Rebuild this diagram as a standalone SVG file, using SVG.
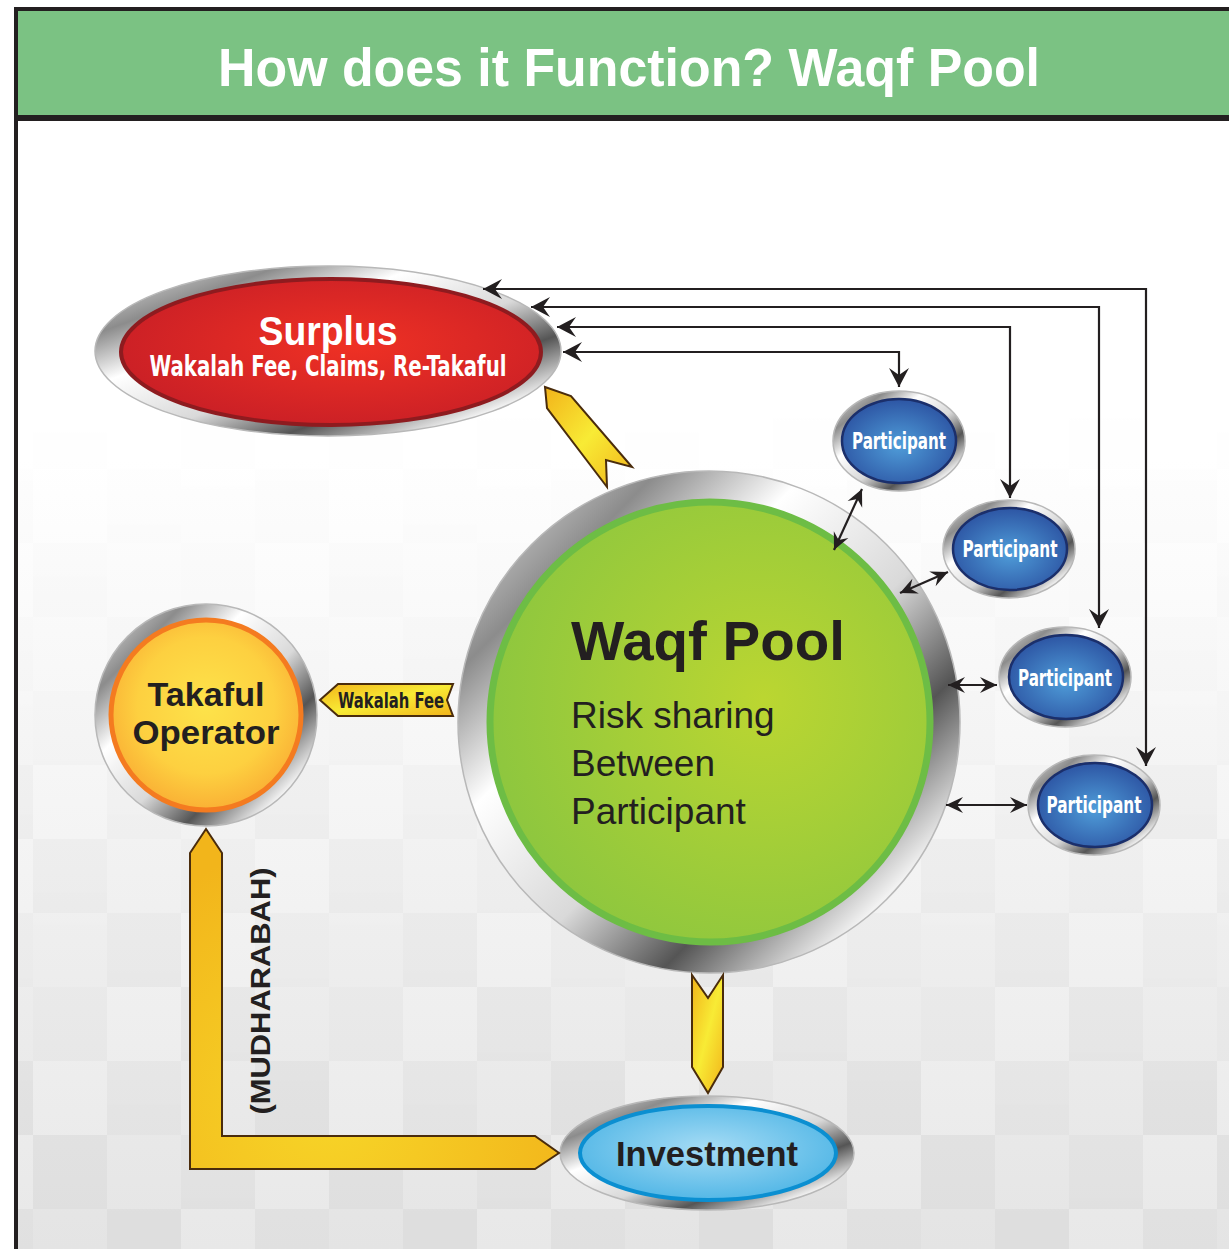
<svg xmlns="http://www.w3.org/2000/svg" width="1229" height="1249" viewBox="0 0 1229 1249">
<style>
.sans{font-family:"Liberation Sans",Arial,sans-serif}
.narrow{font-family:"Liberation Sans Narrow","DejaVu Sans Condensed","Liberation Sans",sans-serif;font-weight:bold}
.conn{fill:none;stroke:#231f20;stroke-width:2.2}
.yarrow{fill:url(#yellowGrad);stroke:#4a2c0c;stroke-width:2;stroke-linejoin:miter}
.ring{fill:url(#silver);stroke:#b8b8b8;stroke-width:1.5}
.ptxt{fill:#fff;font-size:23px;text-anchor:middle}
</style>
<defs>
<linearGradient id="bgGrad" x1="0" y1="0" x2="0" y2="1">
<stop offset="0" stop-color="#ffffff"/>
<stop offset="0.3" stop-color="#ffffff"/>
<stop offset="1" stop-color="#e8e8e8"/>
</linearGradient>
<linearGradient id="fadeGrad" x1="0" y1="380" x2="0" y2="1249" gradientUnits="userSpaceOnUse">
<stop offset="0" stop-color="#000"/>
<stop offset="1" stop-color="#fff"/>
</linearGradient>
<mask id="fadeMask"><rect x="0" y="121" width="1229" height="1128" fill="url(#fadeGrad)"/></mask>
<pattern id="checks" x="33" y="395" width="296" height="296" patternUnits="userSpaceOnUse">
<rect x="0" y="0" width="74" height="74" fill="#000" opacity="0.03"/>
<rect x="74" y="0" width="74" height="74" fill="#000" opacity="0.0"/>
<rect x="148" y="0" width="74" height="74" fill="#000" opacity="0.045"/>
<rect x="222" y="0" width="74" height="74" fill="#000" opacity="0.015"/>
<rect x="0" y="74" width="74" height="74" fill="#000" opacity="0.0"/>
<rect x="74" y="74" width="74" height="74" fill="#000" opacity="0.035"/>
<rect x="148" y="74" width="74" height="74" fill="#000" opacity="0.015"/>
<rect x="222" y="74" width="74" height="74" fill="#000" opacity="0.05"/>
<rect x="0" y="148" width="74" height="74" fill="#000" opacity="0.045"/>
<rect x="74" y="148" width="74" height="74" fill="#000" opacity="0.01"/>
<rect x="148" y="148" width="74" height="74" fill="#000" opacity="0.035"/>
<rect x="222" y="148" width="74" height="74" fill="#000" opacity="0.0"/>
<rect x="0" y="222" width="74" height="74" fill="#000" opacity="0.015"/>
<rect x="74" y="222" width="74" height="74" fill="#000" opacity="0.045"/>
<rect x="148" y="222" width="74" height="74" fill="#000" opacity="0.0"/>
<rect x="222" y="222" width="74" height="74" fill="#000" opacity="0.03"/>
</pattern>
<linearGradient id="silver" x1="0" y1="0" x2="1" y2="1">
<stop offset="0" stop-color="#f4f4f4"/>
<stop offset="0.2" stop-color="#8c8c8c"/>
<stop offset="0.35" stop-color="#ffffff"/>
<stop offset="0.55" stop-color="#d9d9d9"/>
<stop offset="0.7" stop-color="#555555"/>
<stop offset="0.85" stop-color="#f2f2f2"/>
<stop offset="1" stop-color="#9a9a9a"/>
</linearGradient>
<radialGradient id="greenGrad" cx="0.62" cy="0.45" r="0.65">
<stop offset="0" stop-color="#bbd631"/>
<stop offset="1" stop-color="#8cc63f"/>
</radialGradient>
<radialGradient id="redGrad" cx="0.55" cy="0.45" r="0.6">
<stop offset="0" stop-color="#ef3124"/>
<stop offset="1" stop-color="#c91f26"/>
</radialGradient>
<radialGradient id="blueGrad" cx="0.5" cy="0.55" r="0.6">
<stop offset="0" stop-color="#4f9dd9"/>
<stop offset="1" stop-color="#2a4f9f"/>
</radialGradient>
<radialGradient id="orangeGrad" cx="0.5" cy="0.45" r="0.6">
<stop offset="0" stop-color="#fde34a"/>
<stop offset="0.6" stop-color="#fdd040"/>
<stop offset="1" stop-color="#f9a832"/>
</radialGradient>
<radialGradient id="skyGrad" cx="0.5" cy="0.45" r="0.6">
<stop offset="0" stop-color="#a6dcf5"/>
<stop offset="1" stop-color="#4cb4e5"/>
</radialGradient>
<linearGradient id="yellowGrad" x1="0" y1="0" x2="1" y2="1">
<stop offset="0" stop-color="#f2b31a"/>
<stop offset="0.5" stop-color="#f8eb35"/>
<stop offset="1" stop-color="#f2b31a"/>
</linearGradient>
<radialGradient id="lGrad" cx="330" cy="1100" r="260" gradientUnits="userSpaceOnUse">
<stop offset="0" stop-color="#f7d628"/>
<stop offset="1" stop-color="#f2b51b"/>
</radialGradient>
<marker id="ah" viewBox="-20 -11 22 22" refX="0" refY="0" markerWidth="22" markerHeight="22" markerUnits="userSpaceOnUse" orient="auto-start-reverse">
<path d="M0,0 L-19,-10 L-12,0 L-19,10 Z" fill="#231f20"/>
</marker>
<marker id="ahs" viewBox="-18 -10 20 20" refX="0" refY="0" markerWidth="20" markerHeight="20" markerUnits="userSpaceOnUse" orient="auto-start-reverse">
<path d="M0,0 L-17,-8 L-11,0 L-17,8 Z" fill="#231f20"/>
</marker>
</defs>

<!-- background -->
<rect x="0" y="0" width="1229" height="1249" fill="#ffffff"/>
<rect x="16" y="121" width="1213" height="1128" fill="url(#bgGrad)"/>
<rect x="16" y="121" width="1213" height="1128" fill="url(#checks)" mask="url(#fadeMask)"/>

<!-- header -->
<g id="header">
<rect x="14" y="7" width="1215" height="4" fill="#231f20"/>
<rect x="16" y="11" width="1213" height="105" fill="#7bc283"/>
<rect x="14" y="115" width="1215" height="6" fill="#231f20"/>
<rect x="14" y="7" width="4" height="1242" fill="#231f20"/>
<text x="629" y="86" class="sans" font-size="53" font-weight="bold" fill="#ffffff" text-anchor="middle" textLength="822" lengthAdjust="spacingAndGlyphs">How does it Function? Waqf Pool</text>
</g>

<!-- Surplus -->
<g id="surplus">
<ellipse cx="328" cy="351" rx="233" ry="85" class="ring"/>
<ellipse cx="331" cy="352" rx="210" ry="73" fill="url(#redGrad)" stroke="#8e1b1f" stroke-width="4"/>
<text x="328" y="345" class="sans" font-size="40" font-weight="bold" fill="#ffffff" text-anchor="middle" textLength="139" lengthAdjust="spacingAndGlyphs">Surplus</text>
<text x="328" y="376" class="narrow" font-size="28" fill="#ffffff" text-anchor="middle" textLength="357" lengthAdjust="spacingAndGlyphs">Wakalah Fee, Claims, Re-Takaful</text>
</g>

<!-- Waqf Pool -->
<g id="waqf-pool">
<circle cx="709" cy="722" r="251" class="ring"/>
<circle cx="710" cy="722" r="220" fill="url(#greenGrad)" stroke="#6dbd45" stroke-width="7"/>
<text x="571" y="660" class="sans" font-size="56" font-weight="bold" fill="#231f20" textLength="274" lengthAdjust="spacingAndGlyphs">Waqf Pool</text>
<text x="571" y="728" class="sans" font-size="37" fill="#231f20">Risk sharing</text>
<text x="571" y="776" class="sans" font-size="37" fill="#231f20">Between</text>
<text x="571" y="824" class="sans" font-size="37" fill="#231f20">Participant</text>
</g>

<!-- Participants -->
<g id="participant-1">
<ellipse cx="899" cy="441" rx="66" ry="50" class="ring"/>
<ellipse cx="899" cy="441" rx="57" ry="42" fill="url(#blueGrad)" stroke="#1b2f6b" stroke-width="2.5"/>
<text x="899" y="449" class="narrow ptxt" textLength="94" lengthAdjust="spacingAndGlyphs">Participant</text>
</g>
<g id="participant-2">
<ellipse cx="1009" cy="549" rx="66" ry="49" class="ring"/>
<ellipse cx="1010" cy="549" rx="57" ry="41" fill="url(#blueGrad)" stroke="#1b2f6b" stroke-width="2.5"/>
<text x="1010" y="557" class="narrow ptxt" textLength="95" lengthAdjust="spacingAndGlyphs">Participant</text>
</g>
<g id="participant-3">
<ellipse cx="1065" cy="677" rx="66" ry="50" class="ring"/>
<ellipse cx="1066" cy="677" rx="57" ry="42" fill="url(#blueGrad)" stroke="#1b2f6b" stroke-width="2.5"/>
<text x="1065" y="686" class="narrow ptxt" textLength="94" lengthAdjust="spacingAndGlyphs">Participant</text>
</g>
<g id="participant-4">
<ellipse cx="1094" cy="805" rx="66" ry="50" class="ring"/>
<ellipse cx="1095" cy="805" rx="57" ry="42" fill="url(#blueGrad)" stroke="#1b2f6b" stroke-width="2.5"/>
<text x="1094" y="813" class="narrow ptxt" textLength="95" lengthAdjust="spacingAndGlyphs">Participant</text>
</g>

<!-- Takaful Operator -->
<g id="takaful-operator">
<circle cx="206" cy="715" r="111" class="ring"/>
<circle cx="206" cy="715" r="95" fill="url(#orangeGrad)" stroke="#f47b20" stroke-width="5"/>
<text x="206" y="706" class="sans" font-size="34" font-weight="bold" fill="#231f20" text-anchor="middle" textLength="117" lengthAdjust="spacingAndGlyphs">Takaful</text>
<text x="206" y="744" class="sans" font-size="34" font-weight="bold" fill="#231f20" text-anchor="middle" textLength="147" lengthAdjust="spacingAndGlyphs">Operator</text>
</g>

<!-- Investment -->
<g id="investment">
<ellipse cx="707" cy="1153" rx="147" ry="57" class="ring"/>
<ellipse cx="708" cy="1153" rx="128" ry="47" fill="url(#skyGrad)" stroke="#0b8fd1" stroke-width="4"/>
<text x="707" y="1166" class="sans" font-size="35" font-weight="bold" fill="#231f20" text-anchor="middle" textLength="182" lengthAdjust="spacingAndGlyphs">Investment</text>
</g>

<!-- connectors -->
<g id="connectors">
<path class="conn" d="M483 289 H1146 V766" marker-start="url(#ah)" marker-end="url(#ah)"/>
<path class="conn" d="M531 307 H1099 V628" marker-start="url(#ah)" marker-end="url(#ah)"/>
<path class="conn" d="M557 327 H1010 V498" marker-start="url(#ah)" marker-end="url(#ah)"/>
<path class="conn" d="M563 352 H899 V387" marker-start="url(#ah)" marker-end="url(#ah)"/>
<path class="conn" d="M862 489 L834 550" marker-start="url(#ahs)" marker-end="url(#ahs)"/>
<path class="conn" d="M948 572 L900 593" marker-start="url(#ahs)" marker-end="url(#ahs)"/>
<path class="conn" d="M997 685 L948 685" marker-start="url(#ahs)" marker-end="url(#ahs)"/>
<path class="conn" d="M1027 805 L946 805" marker-start="url(#ahs)" marker-end="url(#ahs)"/>
<polygon class="yarrow" points="545,387 571,396 632,467 606,460 607,487 547,408"/>
<polygon class="yarrow" points="692,975 708,998 723,975 723,1067 708,1093 692,1067"/>
<polygon class="yarrow" style="fill:url(#lGrad)" points="206,829 222,853 222,1136 535,1136 559,1153 535,1169 190,1169 190,853"/>
<text class="sans" font-size="28" font-weight="bold" fill="#231f20" text-anchor="middle" textLength="247" lengthAdjust="spacingAndGlyphs" transform="translate(270,991) rotate(-90)">(MUDHARABAH)</text>
<polygon class="yarrow" points="320,700 338,684 453,684 447,700 453,716 338,716"/>
<text x="391" y="708" class="narrow" font-size="21" fill="#231f20" text-anchor="middle" textLength="106" lengthAdjust="spacingAndGlyphs">Wakalah Fee</text>
</g>
</svg>
